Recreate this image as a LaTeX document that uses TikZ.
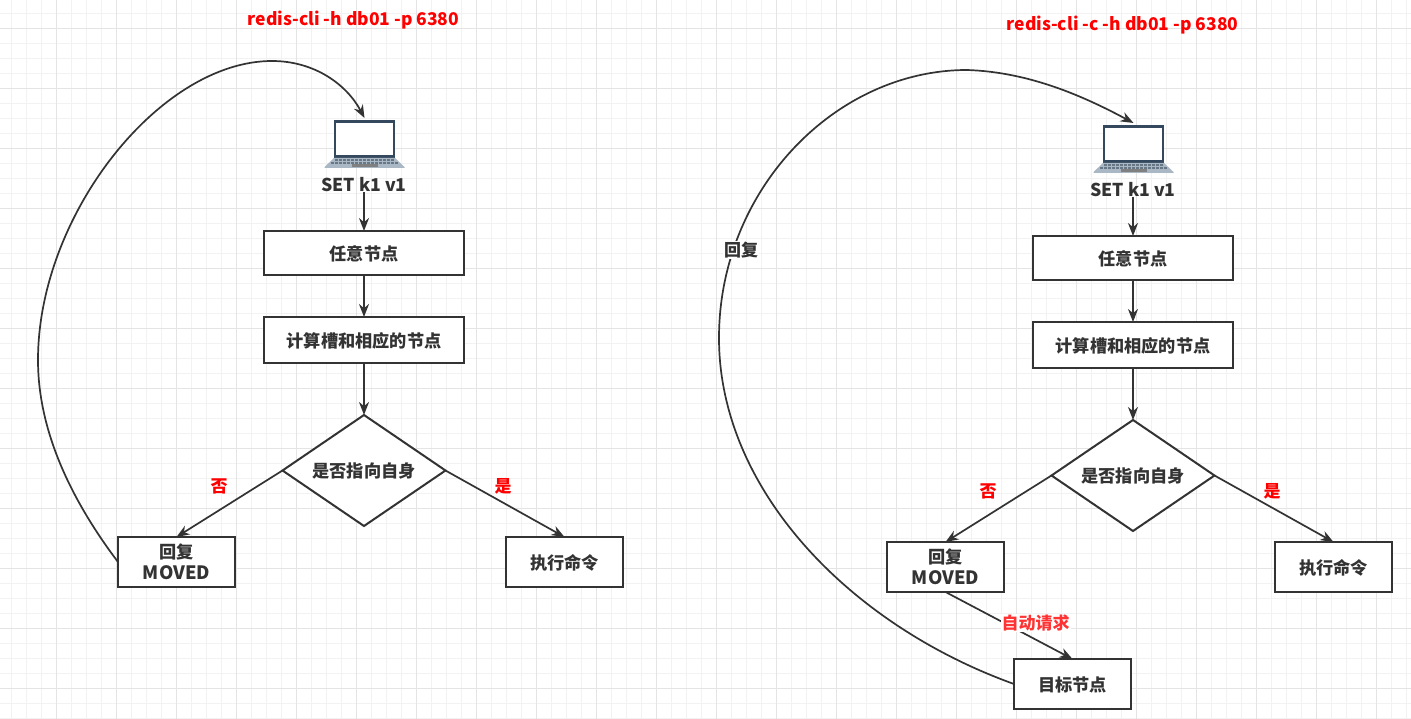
\documentclass[tikz,border=0pt]{standalone}
\usepackage{fontspec}
\setmainfont{Noto Sans CJK SC}
\usetikzlibrary{shapes.geometric,arrows.meta,positioning}
\definecolor{inkgray}{HTML}{333333}
\definecolor{gridminor}{HTML}{F2F2F2}
\definecolor{gridmajor}{HTML}{E4E4E4}
\definecolor{screenblue}{HTML}{34495E}
\definecolor{keysgray}{HTML}{A9B8C4}
\definecolor{autored}{HTML}{FF3333}
\newcommand{\movedtext}{{\fontsize{18.4}{21}\selectfont MOVED}}

\begin{document}
\begin{tikzpicture}[
        x=1pt, y=-1pt,
        >={Stealth[length=13pt,width=10pt]},
        line/.style={draw=inkgray, line width=1.7pt},
        box/.style={rectangle, draw=inkgray, line width=2pt, fill=white, text=inkgray, minimum width=200pt, text depth=0pt, align=center, inner sep=0pt, outer sep=0pt, font=\fontsize{17.2}{21}\selectfont\bfseries},
        smallbox/.style={box, minimum width=117pt, minimum height=50pt},
        decision/.style={diamond, aspect=1.46, draw=inkgray, line width=2pt, fill=white, text=inkgray, minimum width=163pt, minimum height=111pt, text depth=0pt, inner sep=0pt, outer sep=0pt, font=\fontsize{17.2}{21}\selectfont\bfseries},
        laptop/.style={rectangle, minimum width=80pt, minimum height=52pt, inner sep=0pt, outer sep=0pt},
        caption/.style={text=inkgray, inner sep=0pt, font=\fontsize{17.7}{21}\selectfont\bfseries},
        redtext/.style={text=red, inner sep=0pt, font=\fontsize{17}{21}\selectfont\bfseries},
        titletext/.style={text=red, inner sep=0pt, font=\fontsize{17.5}{21}\selectfont\bfseries},
        pics/notebook/.style={code={
            \fill[screenblue] (-30.5,-23.5) rectangle (30.5,14);
            \fill[white] (-28.5,-20.5) rectangle (28.5,11);
            \fill[keysgray] (-30.5,14) -- (30.5,14) -- (40,23) -- (40,24) -- (-40,24) -- (-40,23) -- cycle;
            \foreach \k in {-28,-24,...,28} {\fill[screenblue!75] (\k-1.3,15.5) rectangle (\k+1.3,17.5);}
            \foreach \k in {-32,-28,...,32} {\fill[screenblue!75] (\k-1.3,18.5) rectangle (\k+1.3,20);}
            \fill[gray] (-13,20) rectangle (13,23);
        }},
    ]
    \useasboundingbox (0,0) rectangle (1411,719);
    \fill[white] (0,0) rectangle (1411,719);

    % Background grid
    \foreach \gx in {11.7,26.7,...,1411} {\draw[gridminor, line width=1pt] (\gx,0) -- (\gx,719);}
    \foreach \gy in {13.3,28.3,...,719} {\draw[gridminor, line width=1pt] (0,\gy) -- (1411,\gy);}
    \foreach \gx in {56.7,116.7,...,1411} {\draw[gridmajor, line width=1pt] (\gx,0) -- (\gx,719);}
    \foreach \gy in {28.3,88.3,...,719} {\draw[gridmajor, line width=1pt] (0,\gy) -- (1411,\gy);}

    % Left flow
    \node[titletext] (title1) at (353.5,20) {redis-cli -h db01 -p 6380};
    \node[laptop] (laptop1) at (364.5,144) {};
    \pic at (laptop1) {notebook};
    \node[caption] (set1) at (364,184.5) {SET k1 v1};
    \node[box, minimum height=44pt] (any1) at (364,253) {任意节点};
    \node[box, minimum height=46pt, below=42pt of any1] (calc1) {计算槽和相应的节点};
    \node[decision, below=52pt of calc1] (self1) {是否指向自身};
    \node[smallbox] (moved1) at (176.5,562) {回复\\\movedtext};
    \node[smallbox] (exec1) at (564.5,562) {执行命令};
    \node[redtext] (no1) at (219,486) {否};
    \node[redtext] (yes1) at (503,486) {是};

    \draw[line, ->] (set1) -- (any1);
    \draw[line, ->] (any1) -- (calc1);
    \draw[line, ->] (calc1) -- (self1);
    \draw[line, ->] (self1.west) -- (moved1.north);
    \draw[line, ->] (self1.east) -- (exec1.north);
    \draw[line, ->] (moved1.west) .. controls (75,505) and (38,435) .. (38,360)
        .. controls (38,215) and (160,61) .. (272,61)
        .. controls (315,61) and (347,85) .. (laptop1.north);

    % Right flow
    \node[titletext] (title2) at (1122.5,25) {redis-cli -c -h db01 -p 6380};
    \node[laptop] (laptop2) at (1133.5,149) {};
    \pic at (laptop2) {notebook};
    \node[caption] (set2) at (1133,189.5) {SET k1 v1};
    \node[box, minimum height=44pt] (any2) at (1133,258) {任意节点};
    \node[box, minimum height=46pt, below=42pt of any2] (calc2) {计算槽和相应的节点};
    \node[decision, below=52pt of calc2] (self2) {是否指向自身};
    \node[smallbox] (moved2) at (945.5,567) {回复\\\movedtext};
    \node[smallbox] (exec2) at (1333.5,567) {执行命令};
    \node[smallbox] (target2) at (1072.5,684) {目标节点};
    \node[redtext] (no2) at (988,491) {否};
    \node[redtext] (yes2) at (1272,491) {是};

    \draw[line, ->] (set2) -- (any2);
    \draw[line, ->] (any2) -- (calc2);
    \draw[line, ->] (calc2) -- (self2);
    \draw[line, ->] (self2.west) -- (moved2.north);
    \draw[line, ->] (self2.east) -- (exec2.north);
    \draw[line, ->] (moved2.south) -- (target2.north);
    \draw[line, ->] (target2.west) .. controls (850,625) and (719,490) .. (719,338)
        .. controls (719,190) and (835,70) .. (967,70)
        .. controls (1030,72) and (1085,97) .. (laptop2.north);
    \node[fill=white, inner sep=1pt, text=autored, font=\fontsize{17}{21}\selectfont\bfseries] (auto2) at (1035.5,623) {自动请求};
    \node[fill=white, inner sep=1pt, text=inkgray, font=\fontsize{17}{21}\selectfont\bfseries] (reply2) at (741,250) {回复};
\end{tikzpicture}
\end{document}
